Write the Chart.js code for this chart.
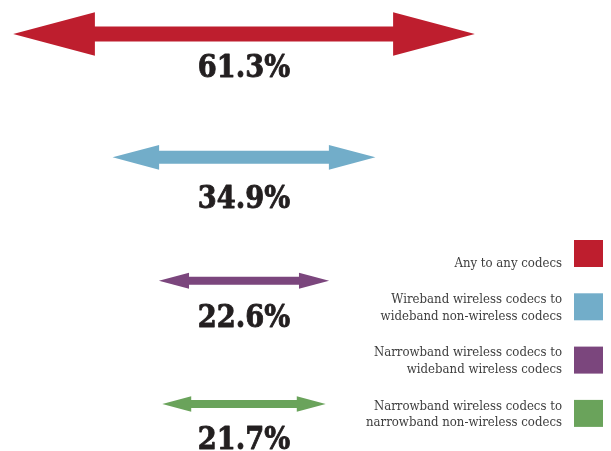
<!DOCTYPE html>
<html>
<head>
<meta charset="utf-8">
<script src="https://cdn.jsdelivr.net/npm/chart.js@4.4.1/dist/chart.umd.min.js"></script>
<style>
  html, body { margin: 0; padding: 0; background: #ffffff; }
  #wrap { position: relative; width: 611px; height: 451px; }
</style>
</head>
<body>
<div id="wrap"><canvas id="codecs"></canvas></div>
<script>
"use strict";

// codec pairings, one arrow each (legend text split into lines)
const categories = [
    ["Any to any codecs"],
    ["Wireband wireless codecs to", "wideband non-wireless codecs"],
    ["Narrowband wireless codecs to", "wideband wireless codecs"],
    ["Narrowband wireless codecs to", "narrowband non-wireless codecs"],
];
const shares = [61.3, 34.9, 22.6, 21.7];

const colors = ["#be1e2e", "#72adc9", "#7b467d", "#6aa35b"];
const shaftWidths = [15, 13, 8, 8];
const labelDrops = [43, 51, 46, 45];

const rowKeys = categories.map(lines => lines.join(" "));

const valueFont = "bold 31px 'DejaVu Serif'";
const legendFont = "13.5px 'DejaVu Serif'";

// squeeze text horizontally, the serif face is a bit wide
const squeezedText = (ctx, text, x, y, sx, weight) => {
    ctx.save();
    ctx.translate(x, y);
    ctx.scale(sx, 1);
    ctx.fillText(text, 0, 0);
    if (weight) {
        ctx.lineWidth = weight;
        ctx.lineJoin = "round";
        ctx.strokeStyle = ctx.fillStyle;
        ctx.strokeText(text, 0, 0);
    }
    ctx.restore();
};

// every bar becomes a double headed arrow, value printed under it
const arrowPlugin = {
    id: "arrows",
    beforeDatasetDraw: () => false,
    afterDatasetsDraw: (chart) => {
        const ctx = chart.ctx;
        chart.data.datasets.forEach((ds, i) => {
            const meta = chart.getDatasetMeta(i);
            meta.data.forEach((bar, j) => {
                if (ds.data[j] === null) {
                    return;
                }
                const p = bar.getProps(["x", "base", "y", "height"], true);
                const left = Math.min(p.x, p.base);
                const right = Math.max(p.x, p.base);
                const len = right - left;
                const headLen = len * 0.177;
                const headHalf = len * 0.047;
                const shaftHalf = p.height / 2;
                const y = p.y;

                ctx.save();
                ctx.fillStyle = ds.backgroundColor;
                ctx.beginPath();
                ctx.moveTo(left, y);
                ctx.lineTo(left + headLen, y - headHalf);
                ctx.lineTo(left + headLen, y - shaftHalf);
                ctx.lineTo(right - headLen, y - shaftHalf);
                ctx.lineTo(right - headLen, y - headHalf);
                ctx.lineTo(right, y);
                ctx.lineTo(right - headLen, y + headHalf);
                ctx.lineTo(right - headLen, y + shaftHalf);
                ctx.lineTo(left + headLen, y + shaftHalf);
                ctx.lineTo(left + headLen, y + headHalf);
                ctx.closePath();
                ctx.fill();

                const value = ds.data[j][1] - ds.data[j][0];
                ctx.fillStyle = "#231f20";
                ctx.font = valueFont;
                ctx.textAlign = "center";
                ctx.textBaseline = "alphabetic";
                squeezedText(ctx, value.toFixed(1) + "%", (left + right) / 2, y + ds.labelDrop, 0.88, 0.9);
                ctx.restore();
            });
        });
    },
};

// legend on the right: text right aligned, colour box after it
const sideLegendPlugin = {
    id: "sideLegend",
    afterDraw: (chart, args, opts) => {
        const ctx = chart.ctx;
        ctx.save();
        ctx.font = legendFont;
        ctx.textAlign = "right";
        ctx.textBaseline = "alphabetic";
        chart.data.datasets.forEach((ds, i) => {
            const top = opts.top + i * opts.step;
            ctx.fillStyle = ds.backgroundColor;
            ctx.fillRect(opts.boxX, top, opts.boxW, opts.boxH);
            ctx.fillStyle = "#3d3d3d";
            const lines = ds.lines;
            lines.forEach((line, k) => {
                const baseline = top + opts.boxH - 0.5 - (lines.length - 1 - k) * opts.lineHeight;
                squeezedText(ctx, line, opts.textRight, baseline, 0.87, 0);
            });
        });
        ctx.restore();
    },
};

new Chart(document.getElementById("codecs"), {
    type: "bar",
    data: {
        labels: rowKeys,
        datasets: shares.map((v, i) => ({
            label: rowKeys[i],
            lines: categories[i],
            data: rowKeys.map((k, j) => (j === i ? [-v / 2, v / 2] : null)),
            backgroundColor: colors[i],
            barThickness: shaftWidths[i],
            labelDrop: labelDrops[i],
            grouped: false,
        })),
    },
    options: {
        indexAxis: "y",
        responsive: true,
        maintainAspectRatio: false,
        animation: false,
        layout: {
            padding: { top: 34, bottom: 47, left: 0, right: 123 },
        },
        scales: {
            x: {
                type: "linear",
                min: -32.4,
                max: 32.4,
                display: false,
            },
            y: {
                type: "category",
                offset: false,
                display: false,
            },
        },
        plugins: {
            legend: { display: false },
            tooltip: { enabled: false },
            sideLegend: {
                top: 240,
                step: 53.3,
                boxX: 574,
                boxW: 29,
                boxH: 27,
                textRight: 562,
                lineHeight: 16.7,
            },
        },
    },
    plugins: [arrowPlugin, sideLegendPlugin],
});
</script>
</body>
</html>
